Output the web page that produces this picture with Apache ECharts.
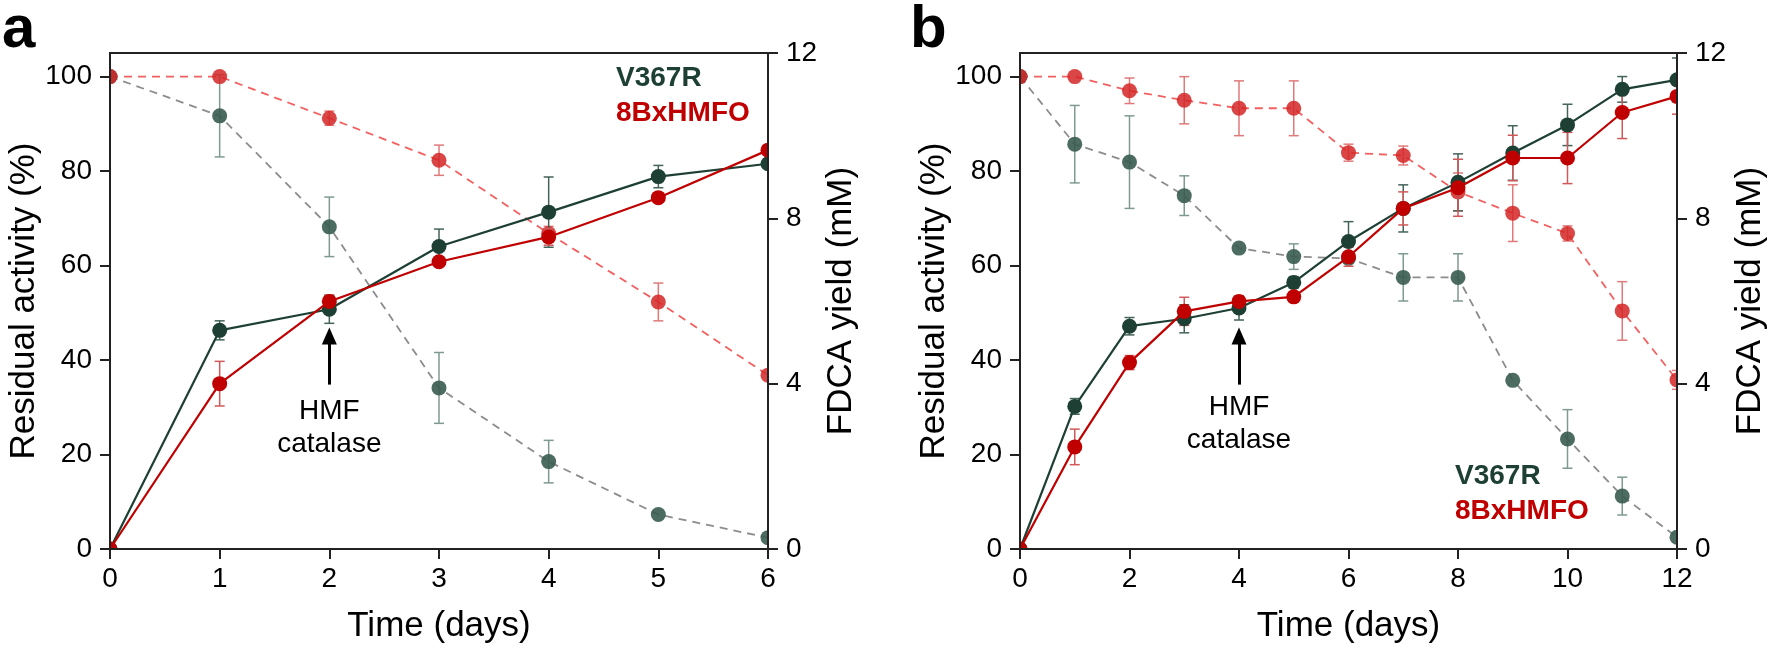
<!DOCTYPE html>
<html>
<head>
<meta charset="utf-8">
<script src="https://cdn.jsdelivr.net/npm/echarts@6/dist/echarts.min.js"></script>
<style>
html,body{margin:0;padding:0;background:#fff;}
#chart{width:1769px;height:654px;}
</style>
</head>
<body>
<div id="chart"></div>
<script>
// ---------- data ----------
const daysA = [0, 1, 2, 3, 4, 5, 6];
const daysB = [0, 1, 2, 3, 4, 5, 6, 7, 8, 9, 10, 11, 12];

// Panel a: residual activity (%), left axis (dashed)
const actV367R_A     = [100, 91.7, 68.2, 34.1, 18.5, 7.3, 2.4];
const actV367R_A_err = [0, 8.7, 6.3, 7.5, 4.5, 0, 0];
const act8Bx_A       = [100, 100, 91.2, 82.3, 66.8, 52.3, 36.8];
const act8Bx_A_err   = [0, 0, 1.5, 3.2, 1.5, 4, 0];
// Panel a: FDCA yield (mM), right axis (solid)
const fdcaV367R_A     = [0, 5.29, 5.80, 7.32, 8.15, 9.01, 9.32];
const fdcaV367R_A_err = [0, 0.23, 0.34, 0.42, 0.85, 0.27, 0];
const fdca8Bx_A       = [0, 4.00, 5.99, 6.95, 7.55, 8.50, 9.65];
const fdca8Bx_A_err   = [0, 0.54, 0.15, 0.10, 0.20, 0, 0];

// Panel b
const actV367R_B     = [100, 85.7, 81.9, 74.8, 63.7, 61.9, 61.5, 57.5, 57.5, 35.7, 23.3, 11.2, 2.5];
const actV367R_B_err = [0, 8.2, 9.8, 4.2, 0, 2.7, 1, 5, 5, 0, 6.2, 4, 0];
const act8Bx_B       = [100, 100, 97.0, 95.0, 93.3, 93.3, 83.9, 83.3, 75.6, 71.1, 66.8, 50.4, 35.8];
const act8Bx_B_err   = [0, 0, 2.7, 5, 5.8, 5.8, 1.8, 2, 4, 6, 1.6, 6.2, 2];
const fdcaV367R_B     = [0, 3.45, 5.39, 5.57, 5.83, 6.45, 7.44, 8.24, 8.87, 9.58, 10.26, 11.12, 11.35];
const fdcaV367R_B_err = [0, 0.19, 0.21, 0.34, 0.29, 0.14, 0.48, 0.57, 0.69, 0.66, 0.50, 0.31, 0.53];
const fdca8Bx_B       = [0, 2.47, 4.51, 5.75, 5.99, 6.10, 7.07, 8.24, 8.74, 9.46, 9.46, 10.56, 10.95];
const fdca8Bx_B_err   = [0, 0.43, 0.17, 0.34, 0.11, 0.06, 0.23, 0.40, 0.69, 0.55, 0.62, 0.63, 0.43];

// axis ticks
const xTicksA = [0, 1, 2, 3, 4, 5, 6];
const xTicksB = [0, 2, 4, 6, 8, 10, 12];
const leftTicks = [0, 20, 40, 60, 80, 100];
const rightTicks = [0, 4, 8, 12];

// annotation: arrow (residual activity units) and label
const arrowA = {x: 2, from: 34.8, to: 45.1};
const arrowB = {x: 4, from: 34.8, to: 45.1};
const noteA = {x: 2, y: 25.7};
const noteB = {x: 4, y: 26.6};
const noteText = 'HMF\ncatalase';
const names = ['V367R', '8BxHMFO'];

// ---------- style ----------
const FONT = 'Liberation Sans';
const C_GREEN = '#1e4034';
const C_RED = '#c00000';
const C_GREEN_M = 'rgba(58,92,80,0.9)';
const C_RED_M = 'rgba(212,38,38,0.85)';
const C_GRAY_LINE = '#8c8c8c';
const C_RED_LINE = '#f26060';
const MS = 15;

const grids = [
  {left: 110, right: 1001, top: 53, bottom: 105},
  {left: 1020, right: 91, top: 53, bottom: 105}
];
const W = 1769, H = 654;

function pairs(xs, ys) { return xs.map((x, i) => [x, ys[i]]); }
function triples(xs, ys, es) { return xs.map((x, i) => [x, ys[i], es[i]]); }

function errSeries(xs, ys, es, xi, yi, color, z) {
  return {
    type: 'custom', xAxisIndex: xi, yAxisIndex: yi, z: z, silent: true,
    data: triples(xs, ys, es),
    encode: {x: 0, y: 1},
    renderItem: function (params, api) {
      const x = api.value(0), y = api.value(1), e = api.value(2);
      if (!e) return null;
      const t = api.coord([x, y + e]), b = api.coord([x, y - e]);
      const hw = 5;
      const st = {stroke: color, lineWidth: 1.5};
      return {type: 'group', children: [
        {type: 'line', shape: {x1: t[0], y1: t[1], x2: b[0], y2: b[1]}, style: st},
        {type: 'line', shape: {x1: t[0] - hw, y1: t[1], x2: t[0] + hw, y2: t[1]}, style: st},
        {type: 'line', shape: {x1: b[0] - hw, y1: b[1], x2: b[0] + hw, y2: b[1]}, style: st}
      ]};
    }
  };
}

function dashedSeries(name, xs, ys, xi, yi, lineColor, markColor, z) {
  return {
    type: 'line', name: name, xAxisIndex: xi, yAxisIndex: yi, z: z,
    data: pairs(xs, ys), symbol: 'circle', symbolSize: MS,
    lineStyle: {color: lineColor, width: 1.8, type: [8, 6]},
    itemStyle: {color: markColor},
    clip: false
  };
}
function solidSeries(name, xs, ys, xi, yi, color, z) {
  return {
    type: 'line', name: name, xAxisIndex: xi, yAxisIndex: yi, z: z,
    data: pairs(xs, ys), symbol: 'circle', symbolSize: MS,
    lineStyle: {color: color, width: 2.2},
    itemStyle: {color: color},
    clip: false
  };
}
function noteSeries(arrow, note, xi, yi) {
  return {
    type: 'custom', xAxisIndex: xi, yAxisIndex: yi, z: 6, silent: true,
    data: [[note.x, note.y]],
    encode: {x: 0, y: 1},
    renderItem: function (params, api) {
      const p = api.coord([api.value(0), api.value(1)]);
      return {type: 'text', x: p[0], y: p[1], style: {
        text: noteText, fill: '#000', font: '28px "Liberation Sans"',
        lineHeight: 33, align: 'center', verticalAlign: 'middle'}};
    },
    markLine: {
      silent: true, animation: false,
      symbol: ['none', 'triangle'], symbolSize: [15, 17],
      lineStyle: {color: '#000', width: 3, type: 'solid'},
      label: {show: false},
      data: [[{coord: [arrow.x, arrow.from]}, {coord: [arrow.x, arrow.to]}]]
    }
  };
}

function xAxisDef(gi, max, interval, ticks) {
  return {
    type: 'value', gridIndex: gi, min: 0, max: max, interval: interval, z: 60,
    name: 'Time (days)', nameLocation: 'middle', nameGap: 60,
    nameTextStyle: {fontFamily: FONT, fontSize: 35, color: '#000'},
    axisLine: {show: true, onZero: false, lineStyle: {color: '#222', width: 2}},
    axisTick: {show: true, inside: false, length: 10, lineStyle: {color: '#222', width: 2}, customValues: ticks},
    axisLabel: {margin: 16, fontFamily: FONT, fontSize: 28, color: '#000', customValues: ticks},
    splitLine: {show: false}
  };
}
function yLeftDef(gi) {
  return {
    type: 'value', gridIndex: gi, position: 'left', min: 0, max: 105, z: 60,
    name: 'Residual activity (%)', nameLocation: 'middle', nameGap: 66, nameRotate: 90,
    nameTextStyle: {fontFamily: FONT, fontSize: 35, color: '#000'},
    axisLine: {show: true, onZero: false, lineStyle: {color: '#222', width: 2}},
    axisTick: {show: true, length: 10, lineStyle: {color: '#222', width: 2}, customValues: leftTicks},
    axisLabel: {margin: 18, fontFamily: FONT, fontSize: 28, color: '#000', customValues: leftTicks},
    splitLine: {show: false}
  };
}
function yRightDef(gi) {
  return {
    type: 'value', gridIndex: gi, position: 'right', min: 0, max: 12, z: 60,
    name: 'FDCA yield (mM)', nameLocation: 'middle', nameGap: 56, nameRotate: 90,
    nameTextStyle: {fontFamily: FONT, fontSize: 35, color: '#000'},
    axisLine: {show: true, onZero: false, lineStyle: {color: '#222', width: 2}},
    axisTick: {show: true, length: 10, lineStyle: {color: '#222', width: 2}, customValues: rightTicks},
    axisLabel: {margin: 18, fontFamily: FONT, fontSize: 28, color: '#000', customValues: rightTicks},
    splitLine: {show: false}
  };
}

// white masks to clip markers at plot edges (drawn below axes)
const masks = [];
grids.forEach(g => {
  const L = g.left, R = W - g.right, T = g.top, B = H - g.bottom, p = 10;
  const fill = {fill: '#fff'};
  masks.push({type: 'rect', z: 50, silent: true, shape: {x: L - p, y: T - p, width: p, height: B - T + 2 * p}, style: fill});
  masks.push({type: 'rect', z: 50, silent: true, shape: {x: R, y: T - p, width: p, height: B - T + 2 * p}, style: fill});
  masks.push({type: 'rect', z: 50, silent: true, shape: {x: L - p, y: B, width: R - L + 2 * p, height: p}, style: fill});
  masks.push({type: 'rect', z: 50, silent: true, shape: {x: L - p, y: T - p, width: R - L + 2 * p, height: p}, style: fill});
});

const texts = [
  {type: 'text', z: 70, left: 2, top: 0, style: {text: 'a', font: 'bold 60px "Liberation Sans"', fill: '#000'}},
  {type: 'text', z: 70, left: 910, top: 0, style: {text: 'b', font: 'bold 60px "Liberation Sans"', fill: '#000'}},
  {type: 'text', z: 70, left: 616, top: 64, style: {text: names[0], font: 'bold 28px "Liberation Sans"', fill: C_GREEN}},
  {type: 'text', z: 70, left: 616, top: 99, style: {text: names[1], font: 'bold 28px "Liberation Sans"', fill: C_RED}},
  {type: 'text', z: 70, left: 1455, top: 462, style: {text: names[0], font: 'bold 28px "Liberation Sans"', fill: C_GREEN}},
  {type: 'text', z: 70, left: 1455, top: 497, style: {text: names[1], font: 'bold 28px "Liberation Sans"', fill: C_RED}}
];

const option = {
  animation: false,
  backgroundColor: '#fff',
  grid: grids.map(g => Object.assign({show: true, borderColor: '#222', borderWidth: 2, backgroundColor: 'transparent', z: 60}, g)),
  xAxis: [xAxisDef(0, 6, 1, xTicksA), xAxisDef(1, 12, 2, xTicksB)],
  yAxis: [yLeftDef(0), yRightDef(0), yLeftDef(1), yRightDef(1)],
  graphic: masks.concat(texts),
  series: [
    // panel a
    errSeries(daysA, actV367R_A, actV367R_A_err, 0, 0, '#7f9a90', 3),
    errSeries(daysA, act8Bx_A, act8Bx_A_err, 0, 0, '#e07a7a', 3),
    dashedSeries(names[0] + ' activity', daysA, actV367R_A, 0, 0, C_GRAY_LINE, C_GREEN_M, 4),
    dashedSeries(names[1] + ' activity', daysA, act8Bx_A, 0, 0, C_RED_LINE, C_RED_M, 4),
    errSeries(daysA, fdcaV367R_A, fdcaV367R_A_err, 0, 1, '#44635a', 5),
    errSeries(daysA, fdca8Bx_A, fdca8Bx_A_err, 0, 1, '#d05858', 5),
    solidSeries(names[0] + ' FDCA', daysA, fdcaV367R_A, 0, 1, C_GREEN, 6),
    solidSeries(names[1] + ' FDCA', daysA, fdca8Bx_A, 0, 1, C_RED, 7),
    noteSeries(arrowA, noteA, 0, 0),
    // panel b
    errSeries(daysB, actV367R_B, actV367R_B_err, 1, 2, '#7f9a90', 3),
    errSeries(daysB, act8Bx_B, act8Bx_B_err, 1, 2, '#e07a7a', 3),
    dashedSeries(names[0] + ' activity b', daysB, actV367R_B, 1, 2, C_GRAY_LINE, C_GREEN_M, 4),
    dashedSeries(names[1] + ' activity b', daysB, act8Bx_B, 1, 2, C_RED_LINE, C_RED_M, 4),
    errSeries(daysB, fdcaV367R_B, fdcaV367R_B_err, 1, 3, '#44635a', 5),
    errSeries(daysB, fdca8Bx_B, fdca8Bx_B_err, 1, 3, '#d05858', 5),
    solidSeries(names[0] + ' FDCA b', daysB, fdcaV367R_B, 1, 3, C_GREEN, 6),
    solidSeries(names[1] + ' FDCA b', daysB, fdca8Bx_B, 1, 3, C_RED, 7),
    noteSeries(arrowB, noteB, 1, 2)
  ]
};

const chart = echarts.init(document.getElementById('chart'), null, {renderer: 'canvas'});
chart.setOption(option);
</script>
</body>
</html>
